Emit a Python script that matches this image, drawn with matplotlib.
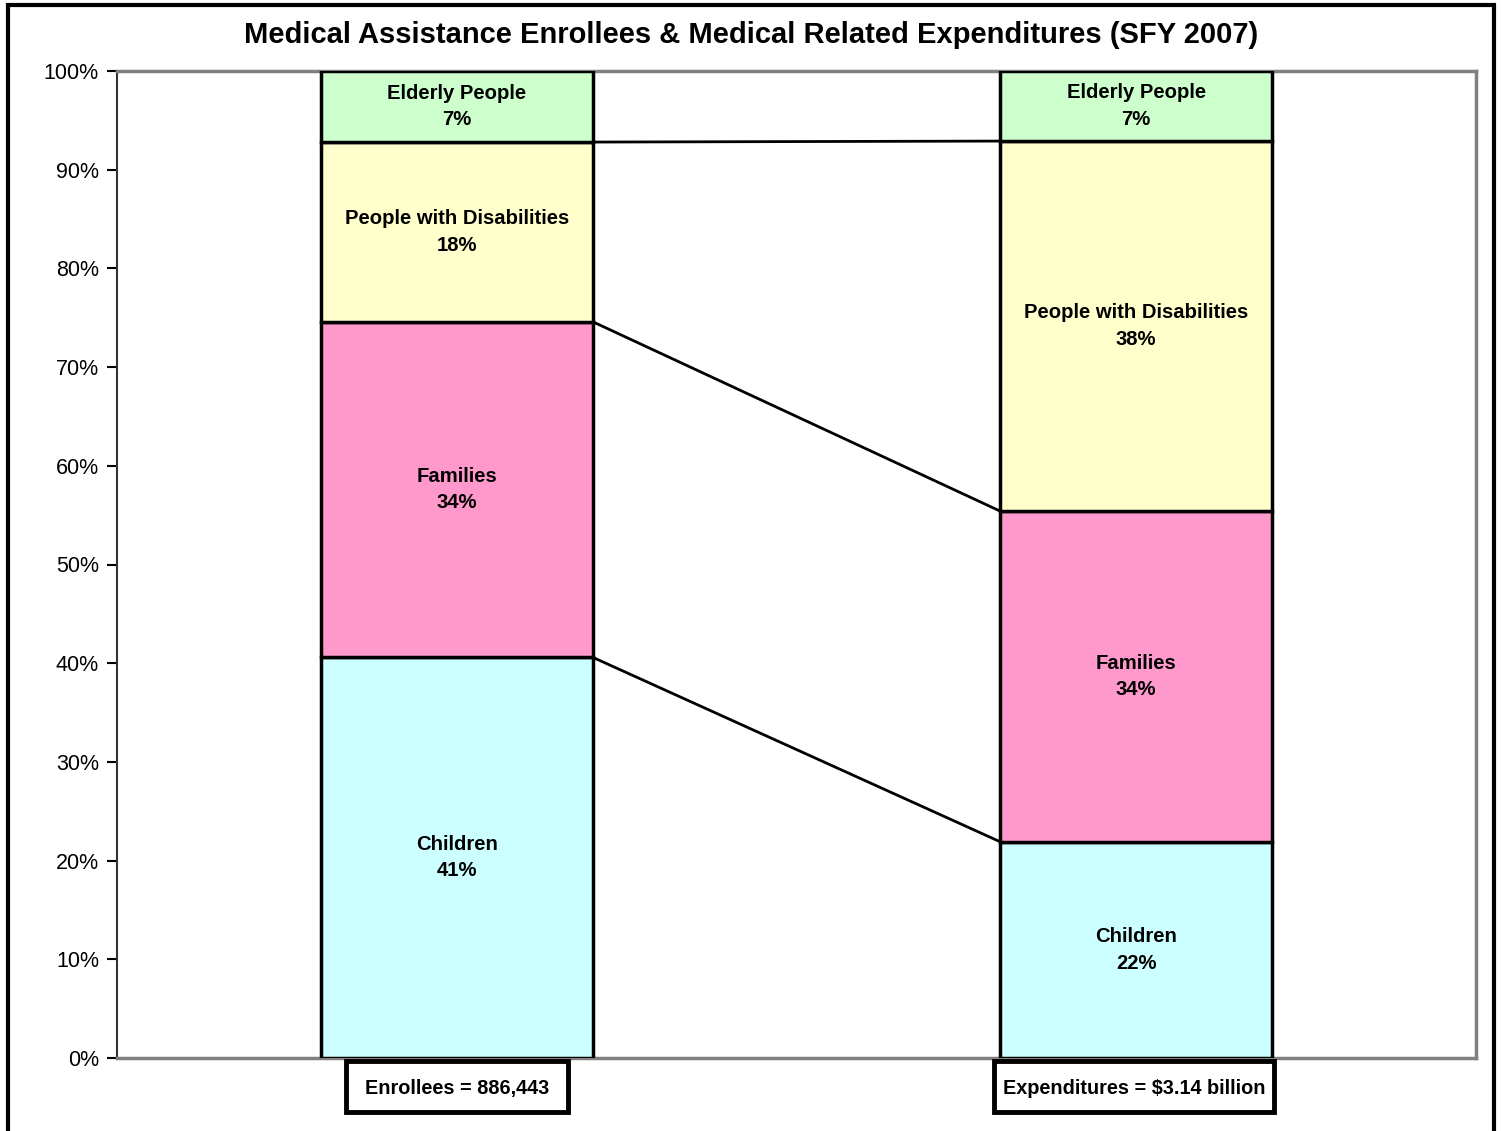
import math
import matplotlib
matplotlib.use("Agg")
import matplotlib.pyplot as plt
from matplotlib.patches import Rectangle
import matplotlib.transforms as mtransforms

plt.rcParams['font.family'] = ['Liberation Sans', 'DejaVu Sans']

# ---- data ----
bars = ["Enrollees = 886,443", "Expenditures = $3.14 billion"]
segments = ["Children", "Families", "People with Disabilities", "Elderly People"]
enrollees = [40.6, 34.0, 18.2, 7.2]
expenditures = [21.9, 33.5, 37.5, 7.1]
colors = ["#CCFFFF", "#FF99CC", "#FFFFCC", "#CCFFCC"]
yticks = [0, 10, 20, 30, 40, 50, 60, 70, 80, 90, 100]
title = "Medical Assistance Enrollees & Medical Related Expenditures (SFY 2007)"

W, H = 1502, 1131
fig = plt.figure(figsize=(W / 100, H / 100), dpi=100)
ax = fig.add_axes([117 / W, 1 - 1058 / H, (1476 - 117) / W, (1058 - 71) / H])

series = [enrollees, expenditures]
xpos = [0, 1]
width = 0.4
tops = []
for x, vals in zip(xpos, series):
    bottom = 0.0
    bt = []
    for name, v, c in zip(segments, vals, colors):
        ax.bar(x, v, width=width, bottom=bottom, color=c, edgecolor="black",
               linewidth=2.5, zorder=3)
        pct = int(math.floor(v + 0.5))
        ax.text(x, bottom + v / 2, f"{name}\n{pct}%", ha="center", va="center",
                fontsize=14.6, fontweight="bold", linespacing=1.5, zorder=4)
        bottom += v
        bt.append(bottom)
    tops.append(bt)

# series connector lines
for i in range(len(segments) - 1):
    ax.plot([xpos[0] + width / 2, xpos[1] - width / 2], [tops[0][i], tops[1][i]],
            color="black", linewidth=2, zorder=2)

ax.set_xlim(-0.5, 1.5)
ax.set_ylim(0, 100)
ax.set_yticks(yticks)
ax.set_yticklabels([f"{t}%" for t in yticks], fontsize=15.5)
ax.tick_params(axis="y", length=7, width=1.5, color="black", pad=6)
ax.set_xticks([])
for s in ["top", "right", "bottom"]:
    ax.spines[s].set_color("#808080")
    ax.spines[s].set_linewidth(2.5)
ax.spines["left"].set_color("#333333")
ax.spines["left"].set_linewidth(1.5)

# category label boxes
trans = mtransforms.blended_transform_factory(ax.transData, ax.transAxes)
box_w = [0.327, 0.412]
box_cx = [0.0, 0.997]
for cx, bw, lab in zip(box_cx, box_w, bars):
    ax.add_patch(Rectangle((cx - bw / 2, -0.0547), bw, 0.0517, transform=trans,
                           facecolor="white", edgecolor="black", linewidth=3.5,
                           clip_on=False, zorder=5))
    ax.text(cx, -0.0305, lab, transform=trans, ha="center", va="center",
            fontsize=14.3, fontweight="bold", zorder=6, clip_on=False)

fig.text(0.5, 1 - 35 / H, title, ha="center", va="center", fontsize=21,
         fontweight="bold")

# outer chart frame
fig.add_artist(Rectangle((8 / W, -0.01), (1494 - 8) / W, 1 - 5 / H + 0.01,
                         transform=fig.transFigure, fill=False,
                         edgecolor="black", linewidth=3))

fig.savefig("out.png", dpi=100, facecolor="white")
